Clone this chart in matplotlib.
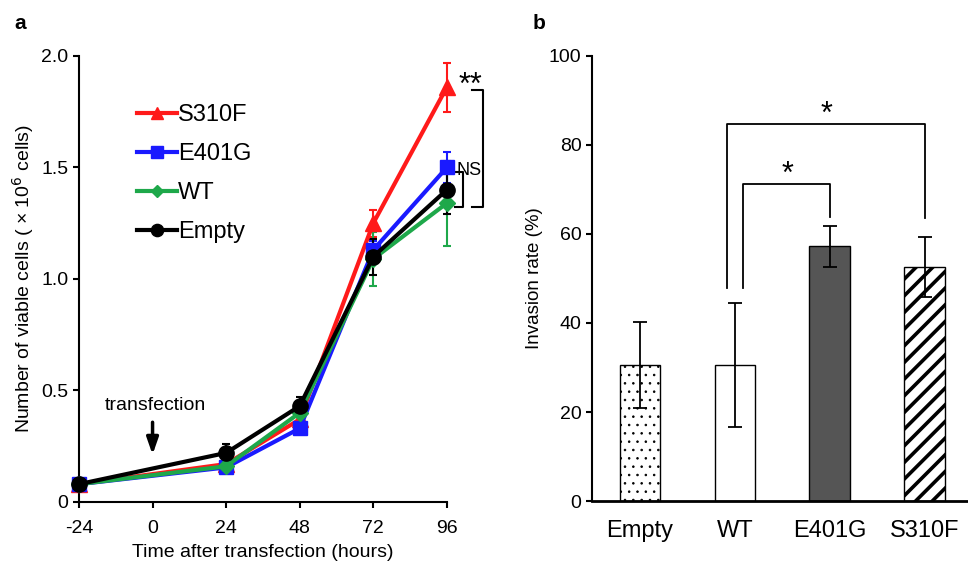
import matplotlib
matplotlib.use('Agg')
import matplotlib.pyplot as plt
import numpy as np

plt.rcParams['font.family'] = ['Liberation Sans', 'DejaVu Sans']

# panel a: growth curves
hours = [-24, 24, 48, 72, 96]
growth_names = ['S310F', 'E401G', 'WT', 'Empty']
growth_values = {
    'S310F': [0.08, 0.17, 0.37, 1.25, 1.86],
    'E401G': [0.08, 0.155, 0.33, 1.13, 1.50],
    'WT': [0.08, 0.16, 0.40, 1.09, 1.34],
    'Empty': [0.08, 0.22, 0.43, 1.10, 1.40],
}
growth_errors = {
    'S310F': [0.01, 0.01, 0.02, 0.06, 0.11],
    'E401G': [0.01, 0.01, 0.02, 0.04, 0.07],
    'WT': [0.01, 0.01, 0.05, 0.12, 0.19],
    'Empty': [0.01, 0.04, 0.04, 0.08, 0.11],
}
growth_colors = {'S310F': '#ff1a1a', 'E401G': '#1a1aff', 'WT': '#1ea84a', 'Empty': 'black'}
growth_markers = {'S310F': '^', 'E401G': 's', 'WT': 'D', 'Empty': 'o'}
growth_msize = {'S310F': 11, 'E401G': 10, 'WT': 8, 'Empty': 11}

# panel b: invasion
groups = ['Empty', 'WT', 'E401G', 'S310F']
invasion = [30.6, 30.6, 57.2, 52.6]
invasion_err = [9.7, 14.0, 4.7, 6.8]

fig = plt.figure(figsize=(9.68, 5.62), dpi=100)

ax = fig.add_axes([0.0816, 0.1068, 0.380, 0.7936])
for name in growth_names:
    ax.errorbar(hours, growth_values[name], yerr=growth_errors[name],
                color=growth_colors[name], marker=growth_markers[name],
                markersize=growth_msize[name], linewidth=3, elinewidth=1.5,
                capsize=3, capthick=1.5, clip_on=False, zorder=3)
handles = [plt.Line2D([], [], color=growth_colors[n], marker=growth_markers[n],
                      markersize=growth_msize[n], linewidth=3) for n in growth_names]
ax.legend(handles, growth_names, loc='upper left', bbox_to_anchor=(0.1, 0.94),
          frameon=False, fontsize=17, handlelength=1.7, handletextpad=0.05,
          labelspacing=0.72, markerscale=0.8)
ax.set_xlim(-24, 96)
ax.set_ylim(0, 2.0)
ax.set_xticks([-24, 0, 24, 48, 72, 96])
ax.set_xticklabels(['-24', '0', '24', '48', '72', '96'])
ax.set_yticks([0, 0.5, 1.0, 1.5, 2.0])
ax.set_yticklabels(['0', '0.5', '1.0', '1.5', '2.0'])
ax.tick_params(labelsize=14, length=4, width=1.5, direction='out')
ax.tick_params(axis='x', pad=9)
for s in ['top', 'right']:
    ax.spines[s].set_visible(False)
for s in ['left', 'bottom']:
    ax.spines[s].set_linewidth(1.5)
ax.set_xlabel('Time after transfection (hours)', fontsize=14, labelpad=5)
ax.set_ylabel('Number of viable cells ( \u00d7 10$^6$ cells)', fontsize=14, labelpad=4)

# transfection arrow
ax.text(0.8, 0.395, 'transfection', ha='center', va='bottom', fontsize=14)
ax.annotate('', xy=(0, 0.20), xytext=(0, 0.37),
            arrowprops=dict(arrowstyle='-|>,head_width=0.35,head_length=1.0',
                            color='black', lw=2.5))

# significance brackets
ax.plot([104.1, 107.7, 107.7, 104.1], [1.848, 1.848, 1.323, 1.323],
        color='black', lw=1.5, clip_on=False)
ax.plot([98.6, 101.2, 101.2, 98.6], [1.48, 1.48, 1.323, 1.323],
        color='black', lw=1.5, clip_on=False)
ax.text(103.8, 1.80, '**', ha='center', va='bottom', fontsize=22)
ax.text(103.4, 1.45, 'NS', ha='center', va='bottom', fontsize=13)

# panel b
bx = fig.add_axes([0.6116, 0.1085, 0.387, 0.792])
pos = np.arange(len(groups))
bar_colors = ['white', 'white', '#555555', 'white']
bar_hatch = ['..', None, None, '//']
bar_hatch_lw = [0.6, 1.0, 1.0, 2.6]
for i in range(len(groups)):
    with plt.rc_context({'hatch.linewidth': bar_hatch_lw[i]}):
        bx.bar(pos[i], invasion[i], width=0.43, color=bar_colors[i],
               edgecolor='black', linewidth=1.0, hatch=bar_hatch[i], zorder=2)
bx.errorbar(pos, invasion, yerr=invasion_err, fmt='none', ecolor='black',
            elinewidth=1.3, capsize=5, capthick=1.3, zorder=3)
bx.set_xlim(-0.505, 3.44)
bx.set_ylim(0, 100)
bx.set_xticks(pos)
bx.set_xticklabels(groups, fontsize=17)
bx.set_yticks([0, 20, 40, 60, 80, 100])
bx.tick_params(axis='y', labelsize=14, length=4, width=1.5)
bx.tick_params(axis='x', length=0, pad=14)
for s in ['top', 'right']:
    bx.spines[s].set_visible(False)
bx.spines['left'].set_linewidth(1.5)
bx.spines['bottom'].set_linewidth(2)
bx.set_ylabel('Invasion rate (%)', fontsize=13.5)

bx.plot([1.08, 1.08, 2.0, 2.0], [47.9, 71.2, 71.2, 63.8], color='black', lw=1.3)
bx.plot([0.92, 0.92, 3.0, 3.0], [47.9, 84.7, 84.7, 63.6], color='black', lw=1.3)
bx.text(1.55, 69.8, '*', ha='center', va='bottom', fontsize=22)
bx.text(1.96, 83.3, '*', ha='center', va='bottom', fontsize=22)

fig.text(0.015, 0.975, 'a', fontsize=15, fontweight='bold', va='top')
fig.text(0.550, 0.975, 'b', fontsize=15, fontweight='bold', va='top')

fig.savefig('out.png', dpi=100)
